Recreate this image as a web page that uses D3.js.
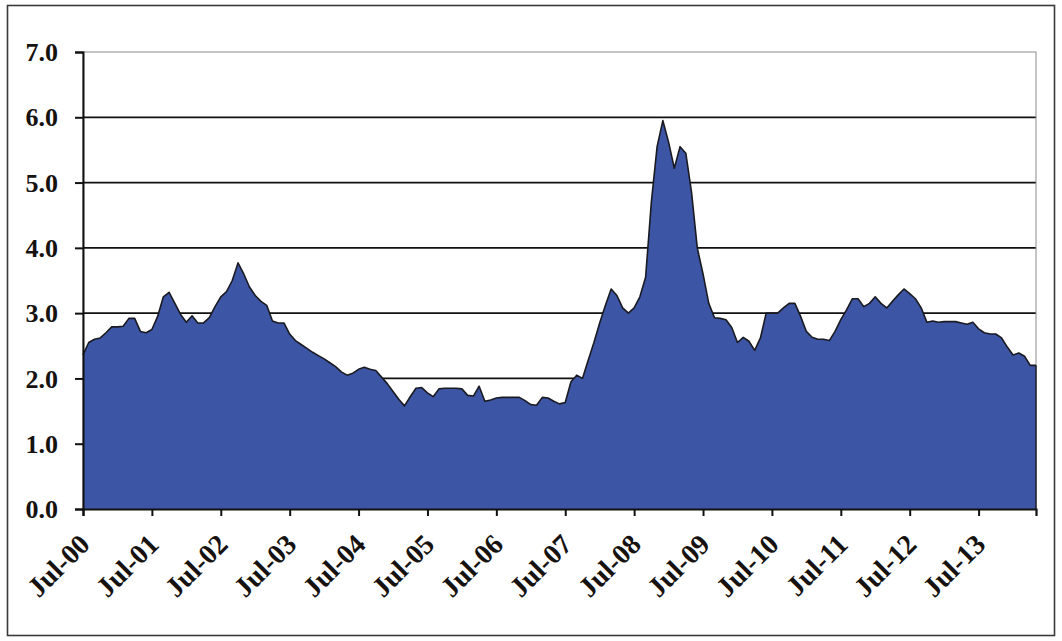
<!DOCTYPE html>
<html>
<head>
<meta charset="utf-8">
<script src="https://cdn.jsdelivr.net/npm/d3@7"></script>
<style>
  html, body { margin: 0; padding: 0; background: #fff; }
  svg { display: block; }
  .lbl { font-family: "Liberation Serif", "Times New Roman", serif; font-weight: bold; fill: #161210; }
</style>
</head>
<body>
<svg id="chart" width="1062" height="641"></svg>
<script>
// Monthly series, Jul-2000 through May-2014
const values = [
  2.36, 2.55, 2.60, 2.62, 2.70, 2.79, 2.79, 2.80, 2.92, 2.92, 2.72, 2.70,
  2.75, 2.95, 3.25, 3.32, 3.15, 2.98, 2.86, 2.96, 2.85, 2.85, 2.93, 3.10,
  3.25, 3.33, 3.50, 3.77, 3.60, 3.40, 3.27, 3.18, 3.12, 2.88, 2.85, 2.85,
  2.68, 2.58, 2.52, 2.46, 2.40, 2.35, 2.30, 2.24, 2.18, 2.10, 2.05, 2.08,
  2.14, 2.17, 2.14, 2.12, 2.02, 1.92, 1.80, 1.68, 1.58, 1.72, 1.85, 1.86,
  1.78, 1.72, 1.84, 1.85, 1.85, 1.85, 1.84, 1.74, 1.73, 1.88, 1.65, 1.67,
  1.70, 1.71, 1.71, 1.71, 1.71, 1.66, 1.60, 1.59, 1.71, 1.70, 1.65, 1.61,
  1.63, 1.95, 2.05, 2.00, 2.28, 2.55, 2.85, 3.12, 3.37, 3.27, 3.08, 3.00,
  3.08, 3.25, 3.55, 4.70, 5.55, 5.95, 5.62, 5.22, 5.55, 5.45, 4.85, 4.00,
  3.60, 3.15, 2.93, 2.92, 2.90, 2.78, 2.55, 2.63, 2.57, 2.43, 2.62, 3.00,
  3.00, 3.00, 3.08, 3.15, 3.15, 2.95, 2.72, 2.63, 2.60, 2.60, 2.58, 2.72,
  2.90, 3.05, 3.22, 3.22, 3.10, 3.15, 3.25, 3.15, 3.08, 3.18, 3.28, 3.37,
  3.30, 3.22, 3.08, 2.86, 2.88, 2.86, 2.87, 2.87, 2.87, 2.85, 2.83, 2.86,
  2.76, 2.70, 2.68, 2.68, 2.62, 2.48, 2.36, 2.39, 2.34, 2.20, 2.20
];
const xTickLabels = ["Jul-00","Jul-01","Jul-02","Jul-03","Jul-04","Jul-05","Jul-06",
                     "Jul-07","Jul-08","Jul-09","Jul-10","Jul-11","Jul-12","Jul-13"];
const yTicks = [0, 1, 2, 3, 4, 5, 6, 7];

const data = values.map((v, i) => ({ i, v }));

const svg = d3.select("#chart");
const plotL = 83, plotR = 1036, plotT = 52, plotB = 509;

// outer frame
svg.append("rect")
  .attr("x", 7.5).attr("y", 5.5)
  .attr("width", 1047).attr("height", 630)
  .attr("fill", "#fff").attr("stroke", "#3a3a3a").attr("stroke-width", 1.6);

const x = d3.scaleLinear().domain([0, values.length - 1]).range([plotL, plotR]);
const y = d3.scaleLinear().domain([0, 7]).range([plotB, plotT]);

// horizontal gridlines
svg.append("g")
  .selectAll("line")
  .data(yTicks.filter(t => t > 0 && t < 7))
  .join("line")
  .attr("x1", plotL).attr("x2", plotR)
  .attr("y1", d => y(d)).attr("y2", d => y(d))
  .attr("stroke", "#111").attr("stroke-width", 1.7);

// plot-area border (light)
svg.append("rect")
  .attr("x", plotL).attr("y", y(7))
  .attr("width", plotR - plotL).attr("height", y(0) - y(7))
  .attr("fill", "none").attr("stroke", "#8a8a8a").attr("stroke-width", 1);

// filled area
const area = d3.area()
  .x(d => x(d.i))
  .y0(y(0))
  .y1(d => y(d.v));
svg.append("path")
  .datum(data)
  .attr("d", area)
  .attr("fill", "#3c56a5");

const line = d3.line().x(d => x(d.i)).y(d => y(d.v));
svg.append("path")
  .datum(data)
  .attr("d", line)
  .attr("fill", "none")
  .attr("stroke", "#1a1a22")
  .attr("stroke-width", 1.6)
  .attr("stroke-linejoin", "round");

// right edge of area
svg.append("line")
  .attr("x1", x(values.length - 1)).attr("x2", x(values.length - 1))
  .attr("y1", y(values[values.length - 1])).attr("y2", y(0))
  .attr("stroke", "#1a1a22").attr("stroke-width", 1.4);

// y axis
const yAxis = d3.axisLeft(y)
  .tickValues(yTicks)
  .tickSize(8)
  .tickPadding(17)
  .tickFormat(d3.format(".1f"));
const gy = svg.append("g").attr("transform", `translate(${plotL},0)`).call(yAxis);
gy.select(".domain").attr("stroke", "#111").attr("stroke-width", 2);
gy.selectAll(".tick line").attr("stroke", "#111").attr("stroke-width", 2);
gy.selectAll(".tick text").attr("class", "lbl").style("font-size", "26px").attr("dy", "0.33em");

// x axis, ticks every 12 months
const xTickIdx = xTickLabels.map((_, k) => k * 12);
const xAxis = d3.axisBottom(x)
  .tickValues(xTickIdx)
  .tickSize(7)
  .tickFormat((d, k) => xTickLabels[k]);
const gx = svg.append("g").attr("transform", `translate(0,${plotB})`).call(xAxis);
gx.select(".domain").attr("stroke", "#111").attr("stroke-width", 2.2);
gx.selectAll(".tick line").attr("stroke", "#111").attr("stroke-width", 2);
gx.selectAll(".tick text")
  .attr("class", "lbl")
  .style("font-size", "28px")
  .attr("text-anchor", "end")
  .attr("x", 0).attr("y", 0).attr("dy", 0)
  .attr("transform", "translate(8,37) rotate(-45)");
</script>
</body>
</html>
